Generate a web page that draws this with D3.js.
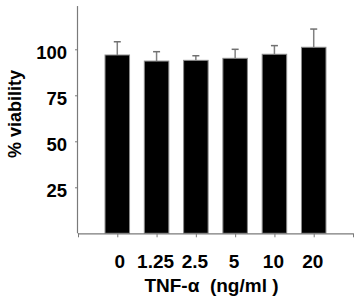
<!DOCTYPE html>
<html>
<head>
<meta charset="utf-8">
<script src="https://cdn.jsdelivr.net/npm/d3@7"></script>
<style>
  html, body { margin: 0; padding: 0; background: #fff; }
  svg { display: block; }
  text { font-family: "Liberation Sans", Arial, sans-serif; font-weight: bold; fill: #000; }
</style>
</head>
<body>
<svg id="chart" width="358" height="305"></svg>
<script>
const categories = ["0", "1.25", "2.5", "5", "10", "20"];
const viability = [96.9, 93.6, 94.0, 95.1, 97.3, 101.1];
const errors = [7.2, 5.1, 2.5, 4.9, 4.7, 9.9];
const yTicks = [25, 50, 75, 100];
const yTitle = "% viability";
const xTitle = "TNF-\u03b1  (ng/ml )";

const svg = d3.select("#chart");
const x = d3.scaleLinear().domain([0, 7]).range([78, 353]);
const y = d3.scaleLinear().domain([0, 125]).range([233.3, 3.3]);
const barW = 24.5;
const axisColor = "#7a7a7a";

// bars
svg.selectAll("rect.bar").data(viability).join("rect")
  .attr("class", "bar")
  .attr("x", (d, i) => x(i + 1) - barW / 2)
  .attr("y", d => y(d))
  .attr("width", barW)
  .attr("height", d => y(0) - y(d))
  .attr("fill", "#000")
  .attr("stroke", "#8a8a8a")
  .attr("stroke-width", 1);

// error bars
const eg = svg.append("g");
viability.forEach((v, i) => {
  const cx = x(i + 1);
  eg.append("line").attr("x1", cx).attr("x2", cx)
    .attr("y1", y(v)).attr("y2", y(v + errors[i]))
    .attr("stroke", "#808080").attr("stroke-width", 1.5);
  eg.append("line").attr("x1", cx - 3.5).attr("x2", cx + 3.5)
    .attr("y1", y(v + errors[i])).attr("y2", y(v + errors[i]))
    .attr("stroke", "#707070").attr("stroke-width", 1.5);
});

// y axis
const yAxis = d3.axisLeft(y).tickValues(yTicks).tickSize(3).tickFormat("");
const ya = svg.append("g").attr("transform", `translate(${x(0)},0)`).call(yAxis);
ya.select(".domain").attr("stroke", axisColor).attr("stroke-width", 1.2).attr("d", `M-0.5,${y(123.5)}V${y(0)}`);
ya.selectAll(".tick line").attr("stroke", axisColor);
svg.append("g").selectAll("text").data(yTicks).join("text")
  .attr("x", 67).attr("y", d => y(d) + 9.8)
  .attr("text-anchor", "end").attr("font-size", 18.5)
  .text(d => d);

// x axis
const xAxis = d3.axisBottom(x).tickValues(d3.range(0, 8)).tickSize(4).tickFormat("");
const xa = svg.append("g").attr("transform", `translate(0,${y(0)})`).call(xAxis);
xa.select(".domain").attr("stroke", axisColor).attr("stroke-width", 1.2).attr("d", `M${x(0)},0.5H${x(7)}`);
xa.selectAll(".tick line").attr("stroke", axisColor);
svg.append("g").selectAll("text").data(categories).join("text")
  .attr("x", (d, i) => x(i + 1) + (i === 0 ? 2.5 : -1))
  .attr("y", 268)
  .attr("text-anchor", "middle").attr("font-size", 19)
  .text(d => d);

// titles
svg.append("text").attr("x", 211.5).attr("y", 291.7)
  .attr("text-anchor", "middle").attr("font-size", 19)
  .style("white-space", "pre")
  .text(xTitle);
svg.append("text").attr("transform", "translate(20.5,114) rotate(-90)")
  .attr("text-anchor", "middle").attr("font-size", 18)
  .text(yTitle);
</script>
</body>
</html>
